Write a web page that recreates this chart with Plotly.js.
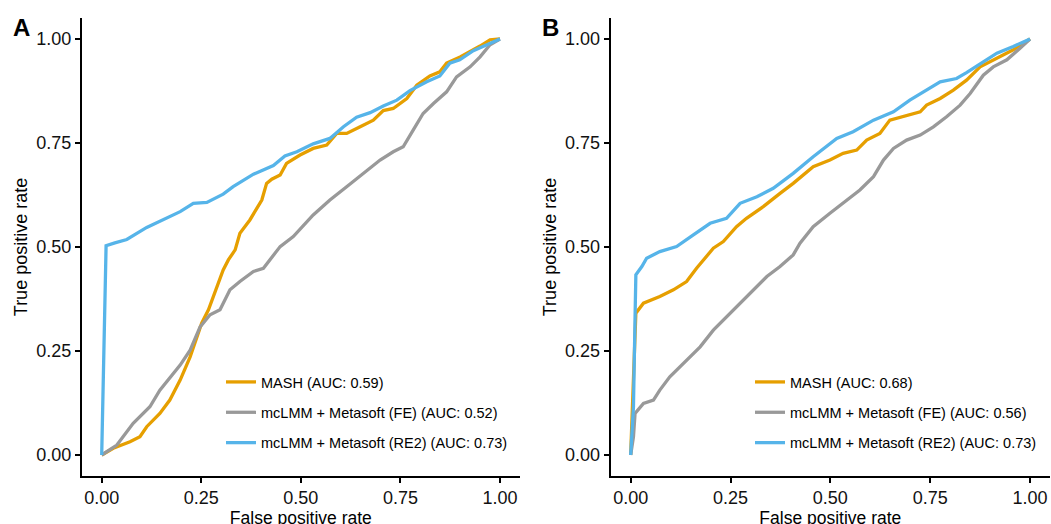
<!DOCTYPE html>
<html><head><meta charset="utf-8">
<script src="https://cdn.plot.ly/plotly-3.0.1.min.js"></script>
<style>html,body{margin:0;padding:0;background:#fff;overflow:hidden}#chart{width:1051px;height:540px}</style>
</head><body><div id="chart"></div>
<script>
// ---------- data ----------
const tickVals = [0, 0.25, 0.5, 0.75, 1];
const tickText = ['0.00', '0.25', '0.50', '0.75', '1.00'];
const seriesColors = ['#E69F00', '#999999', '#56B4E9'];

const namesA = ['MASH (AUC: 0.59)', 'mcLMM + Metasoft (FE) (AUC: 0.52)', 'mcLMM + Metasoft (RE2) (AUC: 0.73)'];
const namesB = ['MASH (AUC: 0.68)', 'mcLMM + Metasoft (FE) (AUC: 0.56)', 'mcLMM + Metasoft (RE2) (AUC: 0.73)'];

// Panel A
const fprA_mash = [0, 0.029, 0.071, 0.096, 0.113, 0.146, 0.171, 0.197, 0.222, 0.238, 0.251, 0.268, 0.280, 0.293, 0.305, 0.318, 0.335, 0.347, 0.372, 0.402, 0.414, 0.427, 0.448, 0.464, 0.498, 0.531, 0.565, 0.590, 0.615, 0.649, 0.682, 0.707, 0.732, 0.766, 0.791, 0.824, 0.849, 0.866, 0.900, 0.950, 0.975, 1];
const tprA_mash = [0, 0.016, 0.032, 0.044, 0.068, 0.100, 0.132, 0.180, 0.236, 0.284, 0.317, 0.349, 0.381, 0.413, 0.445, 0.469, 0.493, 0.533, 0.565, 0.613, 0.653, 0.663, 0.673, 0.701, 0.721, 0.737, 0.745, 0.773, 0.773, 0.789, 0.805, 0.828, 0.833, 0.857, 0.889, 0.911, 0.921, 0.942, 0.957, 0.983, 0.998, 1];

const fprA_fe = [0, 0.038, 0.079, 0.096, 0.121, 0.146, 0.171, 0.197, 0.222, 0.247, 0.272, 0.297, 0.322, 0.347, 0.381, 0.406, 0.448, 0.481, 0.531, 0.573, 0.615, 0.657, 0.699, 0.732, 0.757, 0.782, 0.807, 0.833, 0.866, 0.891, 0.925, 0.950, 0.975, 1];
const tprA_fe = [0, 0.024, 0.076, 0.092, 0.116, 0.156, 0.184, 0.216, 0.252, 0.308, 0.337, 0.349, 0.397, 0.417, 0.441, 0.449, 0.501, 0.525, 0.577, 0.613, 0.645, 0.677, 0.709, 0.729, 0.741, 0.781, 0.821, 0.845, 0.873, 0.909, 0.933, 0.957, 0.986, 1];

const fprA_re2 = [0, 0.011, 0.033, 0.063, 0.113, 0.163, 0.197, 0.230, 0.264, 0.305, 0.330, 0.381, 0.431, 0.460, 0.490, 0.531, 0.573, 0.607, 0.640, 0.674, 0.707, 0.741, 0.774, 0.816, 0.849, 0.874, 0.899, 0.933, 0.967, 1];
const tprA_re2 = [0, 0.503, 0.510, 0.518, 0.547, 0.569, 0.585, 0.605, 0.607, 0.627, 0.645, 0.675, 0.696, 0.719, 0.729, 0.748, 0.761, 0.789, 0.812, 0.823, 0.839, 0.853, 0.876, 0.897, 0.911, 0.942, 0.950, 0.972, 0.986, 1];

// Panel B
const fprB_mash = [0, 0.010, 0.013, 0.032, 0.073, 0.107, 0.140, 0.165, 0.207, 0.232, 0.265, 0.290, 0.332, 0.374, 0.407, 0.457, 0.499, 0.532, 0.566, 0.591, 0.624, 0.649, 0.691, 0.725, 0.741, 0.775, 0.808, 0.841, 0.875, 0.917, 0.958, 1];
const tprB_mash = [0, 0.300, 0.341, 0.365, 0.381, 0.397, 0.417, 0.449, 0.497, 0.513, 0.549, 0.569, 0.597, 0.629, 0.653, 0.693, 0.709, 0.725, 0.733, 0.757, 0.773, 0.805, 0.817, 0.825, 0.841, 0.857, 0.877, 0.901, 0.933, 0.953, 0.974, 1];

const fprB_fe = [0, 0.007, 0.011, 0.032, 0.057, 0.073, 0.098, 0.123, 0.149, 0.174, 0.207, 0.240, 0.274, 0.307, 0.341, 0.374, 0.407, 0.424, 0.457, 0.499, 0.532, 0.574, 0.608, 0.633, 0.658, 0.691, 0.725, 0.758, 0.791, 0.825, 0.850, 0.883, 0.908, 0.942, 0.975, 1];
const tprB_fe = [0, 0.044, 0.100, 0.124, 0.132, 0.156, 0.188, 0.212, 0.236, 0.260, 0.300, 0.332, 0.365, 0.397, 0.429, 0.453, 0.481, 0.509, 0.549, 0.581, 0.605, 0.637, 0.669, 0.709, 0.737, 0.757, 0.769, 0.789, 0.813, 0.841, 0.869, 0.913, 0.933, 0.950, 0.978, 1];

const fprB_re2 = [0, 0.007, 0.011, 0.013, 0.028, 0.040, 0.073, 0.115, 0.157, 0.199, 0.240, 0.274, 0.316, 0.357, 0.407, 0.457, 0.516, 0.557, 0.608, 0.658, 0.699, 0.741, 0.775, 0.816, 0.841, 0.883, 0.917, 0.958, 1];
const tprB_re2 = [0, 0.116, 0.332, 0.433, 0.453, 0.473, 0.489, 0.501, 0.529, 0.557, 0.569, 0.605, 0.621, 0.641, 0.677, 0.717, 0.761, 0.777, 0.805, 0.825, 0.853, 0.877, 0.897, 0.905, 0.919, 0.945, 0.966, 0.982, 1];

// ---------- figure ----------
// The figure is drawn slightly taller than the 524px window so the x-axis titles
// are not clamped; positions below are measured from the top.
const W = 1051, H = 540;
const FONT = 'Liberation Sans, Arial, Helvetica, sans-serif';

function mk(x, y, name, color, xa, ya, leg, grp) {
  return {x: x, y: y, name: name, type: 'scatter', mode: 'lines',
          line: {color: color, width: 3.3}, xaxis: xa, yaxis: ya,
          legend: leg, legendgroup: grp};
}

const data = [
  mk(fprA_mash, tprA_mash, namesA[0], seriesColors[0], 'x', 'y', 'legend', 'a1'),
  mk(fprA_fe, tprA_fe, namesA[1], seriesColors[1], 'x', 'y', 'legend', 'a2'),
  mk(fprA_re2, tprA_re2, namesA[2], seriesColors[2], 'x', 'y', 'legend', 'a3'),
  mk(fprB_mash, tprB_mash, namesB[0], seriesColors[0], 'x2', 'y2', 'legend2', 'b1'),
  mk(fprB_fe, tprB_fe, namesB[1], seriesColors[1], 'x2', 'y2', 'legend2', 'b2'),
  mk(fprB_re2, tprB_re2, namesB[2], seriesColors[2], 'x2', 'y2', 'legend2', 'b3')
];

function xax(domain, anchor) {
  return {domain: domain, anchor: anchor, range: [-0.05, 1.05], autorange: false,
    tickvals: tickVals, ticktext: tickText, ticks: 'outside', ticklen: 5, tickwidth: 2,
    tickcolor: '#000', showline: true, linecolor: '#000', linewidth: 2,
    showgrid: false, zeroline: false, automargin: false,
    tickfont: {family: FONT, size: 18, color: '#111'},
    title: {text: 'False positive rate', font: {family: FONT, size: 17.5, color: '#000'}, standoff: 0}};
}
function yax(anchor) {
  return {domain: [1 - 475.8 / H, 1 - 18.2 / H], anchor: anchor, range: [-0.05, 1.05], autorange: false,
    tickvals: tickVals, ticktext: tickText, ticks: 'outside', ticklen: 5, tickwidth: 2,
    tickcolor: '#000', showline: true, linecolor: '#000', linewidth: 2,
    showgrid: false, zeroline: false, automargin: false,
    tickfont: {family: FONT, size: 18, color: '#111'},
    title: {text: 'True positive rate', font: {family: FONT, size: 18, color: '#000'}, standoff: 4}};
}
function leg(xpx) {
  return {x: xpx / W, xanchor: 'left', y: 1 - 366 / H, yanchor: 'top',
    bgcolor: 'rgba(0,0,0,0)', borderwidth: 0, tracegroupgap: 8.5, itemwidth: 30,
    font: {family: FONT, size: 14.5, color: '#000'}};
}

const layout = {
  width: W, height: H,
  margin: {l: 0, r: 0, t: 0, b: 0},
  paper_bgcolor: '#fff', plot_bgcolor: '#fff',
  showlegend: true,
  xaxis: xax([81.8 / W, 519.9 / W], 'y'),
  yaxis: yax('x'),
  xaxis2: xax([610.7 / W, 1050 / W], 'y2'),
  yaxis2: yax('x2'),
  legend: leg(221),
  legend2: leg(750),
  annotations: [
    {text: 'A', x: 21 / W, y: 1 - 27 / H, xref: 'paper', yref: 'paper', xanchor: 'center', yanchor: 'middle',
     showarrow: false, font: {family: FONT, size: 24, weight: 700, color: '#000'}},
    {text: 'B', x: 550.5 / W, y: 1 - 27 / H, xref: 'paper', yref: 'paper', xanchor: 'center', yanchor: 'middle',
     showarrow: false, font: {family: FONT, size: 24, weight: 700, color: '#000'}}
  ]
};

Plotly.newPlot('chart', data, layout, {displayModeBar: false, staticPlot: true});
</script>
</body></html>
